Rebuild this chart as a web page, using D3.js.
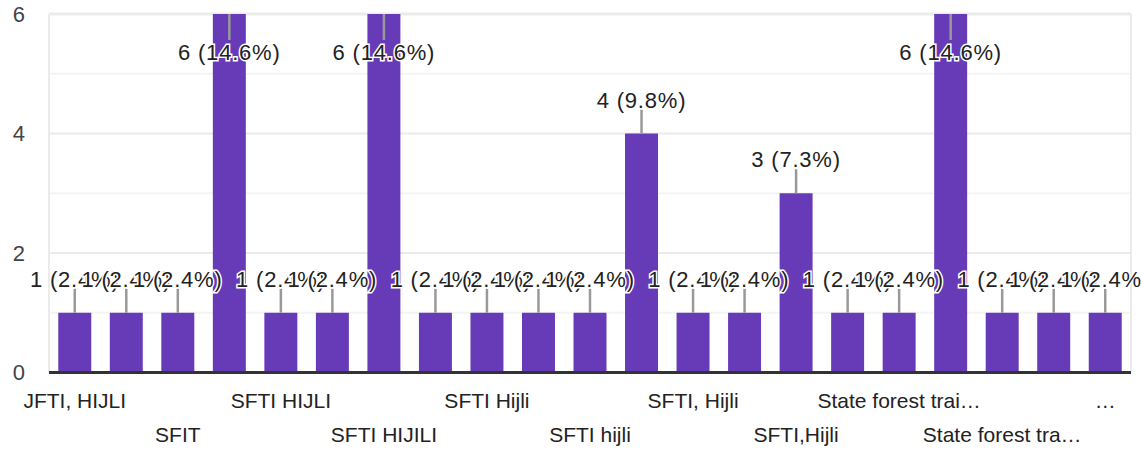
<!DOCTYPE html>
<html>
<head>
<meta charset="utf-8">
<script src="https://cdn.jsdelivr.net/npm/d3@7"></script>
<style>
  html, body { margin: 0; padding: 0; background: #fff; }
  svg { display: block; }
  text { font-family: "Liberation Sans", Arial, sans-serif; }
</style>
</head>
<body>
<div id="grafo"></div>
<script>
// answers (every other one is hidden on the axis, as in the original)
const categorias = [
  'JFTI, HIJLI', 'JFTI Hijli', 'SFIT', 'SFTI', 'SFTI HIJLI', 'SFTI HIJLI.',
  'SFTI HIJILI', 'SFTI HIJLI ', 'SFTI Hijli', 'SFTI Hijli.', 'SFTI hijli',
  'SFTI hijli.', 'SFTI, Hijli', 'SFTI, hijli', 'SFTI,Hijli', 'SFTI,hijli',
  'State forest trai…', 'State forest training institute', 'State forest tra…',
  'State forest training inst…', '…'
];
const valores = [1, 1, 1, 6, 1, 1, 6, 1, 1, 1, 1, 4, 1, 1, 3, 1, 1, 6, 1, 1, 1];
const ticksY = [0, 2, 4, 6];
const gridY = [0, 1, 2, 3, 4, 5, 6];

const width = 1141;
const height = 451;
const margin = { top: 14, right: 10, bottom: 78.5, left: 49 };

const total = d3.sum(valores);
const datos = categorias.map((c, i) => ({ i, cat: c, v: valores[i] }));

const svg = d3.select('#grafo')
  .append('svg')
  .attr('width', width)
  .attr('height', height);

const x = d3.scaleBand()
  .domain(d3.range(categorias.length))
  .range([margin.left, width - margin.right])
  .paddingInner(0.36)
  .paddingOuter(0.18);

const y = d3.scaleLinear()
  .domain([0, 6])
  .range([height - margin.bottom, margin.top]);

// lineas de la grilla
svg.append('g')
  .selectAll('line')
  .data(gridY)
  .join('line')
  .attr('x1', margin.left)
  .attr('x2', width - margin.right)
  .attr('y1', d => y(d))
  .attr('y2', d => y(d))
  .attr('stroke', d => d % 2 === 0 ? '#ebebeb' : '#f4f4f4')
  .attr('stroke-width', d => d === 6 ? 3 : 2);

// marco izquierdo / derecho
svg.append('g')
  .selectAll('line')
  .data([margin.left, width - margin.right])
  .join('line')
  .attr('x1', d => d)
  .attr('x2', d => d)
  .attr('y1', y(6))
  .attr('y2', y(0))
  .attr('stroke', '#ebebeb')
  .attr('stroke-width', 2);

// eje Y
const ejeY = svg.append('g')
  .attr('transform', `translate(${margin.left},0)`)
  .call(d3.axisLeft(y).tickValues(ticksY).tickFormat(d3.format('d')).tickSize(0).tickPadding(24));
ejeY.select('.domain').remove();
ejeY.selectAll('text')
  .attr('fill', '#444')
  .style('font-size', '22px')
  .style('font-family', '"Liberation Sans", Arial, sans-serif');

// barras
svg.append('g')
  .selectAll('rect')
  .data(datos)
  .join('rect')
  .attr('x', d => x(d.i))
  .attr('y', d => y(d.v))
  .attr('width', x.bandwidth())
  .attr('height', d => y(0) - y(d.v))
  .attr('fill', '#673ab7');

// linea base
svg.append('line')
  .attr('x1', margin.left)
  .attr('x2', width - margin.right)
  .attr('y1', y(0))
  .attr('y2', y(0))
  .attr('stroke', '#333')
  .attr('stroke-width', 3);

// eje X, etiquetas alternadas en dos filas
const ejeX = svg.append('g')
  .attr('transform', `translate(0,${y(0)})`)
  .call(d3.axisBottom(x).tickSize(0).tickFormat(i => i % 2 === 0 ? categorias[i] : ''));
ejeX.select('.domain').remove();
ejeX.selectAll('text')
  .attr('fill', '#222')
  .attr('dy', null)
  .attr('y', i => (i / 2) % 2 === 0 ? 35 : 69.5)
  .style('font-size', '21px')
  .style('font-family', '"Liberation Sans", Arial, sans-serif');

// anotaciones
const cabe = d => y(d.v) - 26 - 18 > margin.top;
const anot = svg.append('g')
  .selectAll('g')
  .data(datos)
  .join('g');

anot.append('line')
  .attr('x1', d => x(d.i) + x.bandwidth() / 2)
  .attr('x2', d => x(d.i) + x.bandwidth() / 2)
  .attr('y1', d => y(d.v))
  .attr('y2', d => cabe(d) ? y(d.v) - 24 : y(d.v) + 26)
  .attr('stroke', '#999')
  .attr('stroke-width', 2.5);

anot.append('text')
  .attr('x', d => x(d.i) + x.bandwidth() / 2)
  .attr('y', d => cabe(d) ? y(d.v) - 26 : y(d.v) + 46)
  .attr('text-anchor', 'middle')
  .attr('fill', '#222')
  .attr('stroke', '#fff')
  .attr('stroke-width', 3)
  .attr('paint-order', 'stroke')
  .style('font-size', '22px')
  .style('letter-spacing', '0.8px')
  .text(d => `${d.v} (${(d.v / total * 100).toFixed(1)}%)`);
</script>
</body>
</html>
